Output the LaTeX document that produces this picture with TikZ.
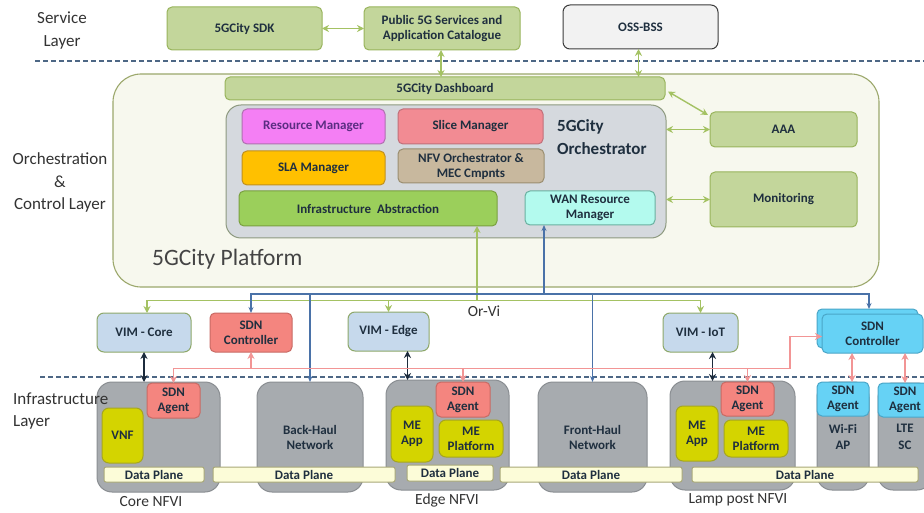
\documentclass[tikz,border=0pt]{standalone}
\usepackage{fontspec}
\setmainfont{Carlito}
\usetikzlibrary{arrows.meta,calc}
\definecolor{gfill}{HTML}{C3D69B}
\definecolor{gdraw}{HTML}{98B45C}
\definecolor{ofill}{HTML}{F2F2F2}
\definecolor{odraw}{HTML}{3C3C3C}
\definecolor{pfill}{HTML}{F7F8EE}
\definecolor{pdraw}{HTML}{9CA86C}
\definecolor{orfill}{HTML}{D5D9DE}
\definecolor{ordraw}{HTML}{8E9A80}
\definecolor{rmfill}{HTML}{F47FF4}
\definecolor{rmdraw}{HTML}{B070B0}
\definecolor{rmtxt}{HTML}{5A2D82}
\definecolor{slfill}{HTML}{F28B93}
\definecolor{sldraw}{HTML}{C0707A}
\definecolor{safill}{HTML}{FFC000}
\definecolor{sadraw}{HTML}{C09020}
\definecolor{nffill}{HTML}{C8B89E}
\definecolor{nfdraw}{HTML}{9A8E70}
\definecolor{iafill}{HTML}{9BCF5B}
\definecolor{iadraw}{HTML}{7AA040}
\definecolor{wafill}{HTML}{B3FAEE}
\definecolor{wadraw}{HTML}{6AB0A0}
\definecolor{vifill}{HTML}{C6D9EC}
\definecolor{vidraw}{HTML}{8EA86A}
\definecolor{sdfill}{HTML}{F4857F}
\definecolor{sddraw}{HTML}{C86A64}
\definecolor{cyfill}{HTML}{66D2F5}
\definecolor{cydraw}{HTML}{4AA6C8}
\definecolor{nvfill}{HTML}{A7ABAF}
\definecolor{nvdraw}{HTML}{8A8E92}
\definecolor{yfill}{HTML}{D4D400}
\definecolor{ydraw}{HTML}{A6A620}
\definecolor{dpfill}{HTML}{FCFCD8}
\definecolor{dpdraw}{HTML}{A8A878}
\definecolor{txt}{HTML}{1F2F3F}
\definecolor{laytxt}{HTML}{333333}
\definecolor{plattxt}{HTML}{444444}
\definecolor{garrow}{HTML}{A4C263}
\definecolor{barrow}{HTML}{4A72A8}
\definecolor{parrow}{HTML}{F29595}
\definecolor{darrow}{HTML}{1C2B3C}
\definecolor{dashc}{HTML}{4D6785}
\newcommand\mybox[7]{%
  \node[#6, minimum width={(#4-#2)*1pt}, minimum height={(#5-#3)*1pt}] (#1) at ({(#2+#4)/2},{(#3+#5)/2}) {#7};}
\tikzset{
  base/.style={draw, rounded corners=5pt, inner sep=1pt, outer sep=0pt, align=center,
    font=\bfseries\fontsize{13}{15}\selectfont, text=txt, line width=1pt},
  gbox/.style={base, fill=gfill, draw=gdraw},
  obox/.style={base, fill=ofill, draw=odraw, rounded corners=7pt},
  platbox/.style={base, fill=pfill, draw=pdraw, rounded corners=28pt, line width=1.1pt},
  orchbox/.style={base, fill=orfill, draw=ordraw, rounded corners=15pt},
  rmbox/.style={base, fill=rmfill, draw=rmdraw, text=rmtxt},
  slbox/.style={base, fill=slfill, draw=sldraw},
  slabox/.style={base, fill=safill, draw=sadraw},
  nfvbox/.style={base, fill=nffill, draw=nfdraw},
  iabox/.style={base, fill=iafill, draw=iadraw},
  wanbox/.style={base, fill=wafill, draw=wadraw},
  vimbox/.style={base, fill=vifill, draw=vidraw, rounded corners=7pt},
  sdnbox/.style={base, fill=sdfill, draw=sddraw},
  cybox/.style={base, fill=cyfill, draw=cydraw},
  nfvibox/.style={base, fill=nvfill, draw=nvdraw, rounded corners=15pt},
  ybox/.style={base, fill=yfill, draw=ydraw, rounded corners=7pt},
  dpbox/.style={base, fill=dpfill, draw=dpdraw, rounded corners=2pt, inner sep=0pt},
  layer/.style={align=center, text=laytxt, font=\fontsize{17}{22.5}\selectfont, inner sep=0pt},
  lbl/.style={text=laytxt, font=\fontsize{15.5}{18}\selectfont, inner sep=0pt},
  gdbl/.style={draw=garrow, line width=1.4pt, {Stealth[length=7pt,width=7pt]}-{Stealth[length=7pt,width=7pt]}},
  garr/.style={draw=garrow, line width=1.4pt, -{Stealth[length=7pt,width=7pt]}},
  barr/.style={draw=barrow, line width=1.5pt, -{Stealth[length=6pt,width=5pt]}},
  parr/.style={draw=parrow, line width=1.4pt, -{Stealth[length=7pt,width=7pt]}},
  pdbl/.style={draw=parrow, line width=1.4pt, {Stealth[length=7pt,width=7pt]}-{Stealth[length=7pt,width=7pt]}},
  ddbl/.style={draw=darrow, line width=1.4pt, {Stealth[length=7pt,width=7pt]}-{Stealth[length=7pt,width=7pt]}},
  dline/.style={draw=dashc, line width=1.3pt, dash pattern=on 5pt off 3pt},
}
\begin{document}
\begin{tikzpicture}[x=1pt,y=-1pt]
\clip (0,0) rectangle (924,513);
\fill[white] (0,0) rectangle (924,513);
% layer dashed lines
\draw[dline] (35,61) -- (924,61);
% service layer
\node[layer] (sl) at (62,30.5) {Service\\Layer};
\mybox{sdk}{167}{7}{322}{50}{gbox}{5GCity SDK}
\mybox{pub}{364}{7}{520}{50}{gbox}{Public 5G Services and\\Application Catalogue}
\mybox{oss}{563}{5}{718}{49}{obox}{OSS-BSS}
% platform
\mybox{plat}{113}{74}{879}{287}{platbox}{}
\node[anchor=west, text=plattxt, font=\fontsize{23.5}{26}\selectfont, inner sep=0pt] (platlbl) at (152,259) {5GCity Platform};
\node[layer] (ocl) at (60,182.5) {Orchestration\\\&\\Control Layer};
\mybox{dash}{225}{77}{665}{100}{gbox}{5GCity Dashboard}
\mybox{orch}{226}{105}{666}{238}{orchbox}{}
\mybox{rm}{242}{109}{385}{144}{rmbox}{Resource Manager}
\mybox{slm}{398}{109}{543}{144}{slbox}{Slice Manager}
\mybox{sla}{242}{151}{385}{185}{slabox}{SLA Manager}
\mybox{nfv}{398}{149}{544}{183}{nfvbox}{NFV Orchestrator \&\\MEC Cmpnts}
\mybox{ia}{239}{191}{497}{226}{iabox}{Infrastructure\ \ Abstraction}
\mybox{wan}{525}{191}{655}{225}{wanbox}{WAN Resource\\Manager}
\node[anchor=west, align=left, text=txt, font=\bfseries\fontsize{17}{23}\selectfont, inner sep=0pt] (orchlbl) at (557,137) {5GCity\\Orchestrator};
\mybox{aaa}{710}{112}{857}{147}{gbox}{AAA}
\mybox{mon}{710}{172}{857}{227}{gbox}{Monitoring}
% service arrows
\draw[gdbl] (sdk.east) -- (pub.west);
\draw[gdbl] ([xshift=-1]pub.south) -- ([xshift=-1]pub.south |- dash.north);
\draw[gdbl] ([xshift=-2]oss.south) -- ([xshift=-2]oss.south |- dash.north);
\draw[gdbl] ([shift={(3,3)}]dash.east) -- ([shift={(-2,3)}]aaa.north west);
\draw[gdbl] (orch.east |- aaa.west) -- (aaa.west);
\draw[gdbl] (orch.east |- mon.west) -- (mon.west);
% VIM row
\mybox{vimc}{97}{313}{191}{352}{vimbox}{VIM - Core}
\mybox{sdnl}{210}{313}{292}{352}{sdnbox}{SDN\\Controller}
\mybox{vime}{348}{312}{429}{351}{vimbox}{VIM - Edge}
\mybox{vimi}{663}{313}{738}{352}{vimbox}{VIM - IoT}
\mybox{sdnrb}{817}{309}{918}{348}{cybox}{}
\mybox{sdnr}{822}{314}{923}{353}{cybox}{SDN\\Controller}
\node[lbl] (orvi) at (484,311) {Or-Vi};
% Or-Vi green bus
\coordinate (ovc) at (477,300.5);
\draw[garr] (ovc) -- (ovc |- ia.south);
\draw[garr] (ovc) -| ([xshift=3]vimc.north);
\draw[garr] (ovc) -| (vimi.north);
\draw[garr] (ovc -| vime.north) -- (vime.north);
% WAN blue bus
\coordinate (wbc) at (544,294);
\draw[barr] (wbc) -- (wbc |- wan.south);
\draw[barr] (wbc) -| (sdnl.north);
\draw[barr] (wbc) -| ([xshift=1.5]sdnrb.north);
% infrastructure
\draw[dline] (40,377) -- (924,377);
\mybox{core}{97}{382}{220}{492}{nfvibox}{}
\mybox{bh}{257}{382}{363}{492}{nfvibox}{Back-Haul\\Network}
\mybox{edge}{386}{380}{509}{490}{nfvibox}{}
\mybox{fh}{538}{382}{647}{492}{nfvibox}{Front-Haul\\Network}
\mybox{lamp}{670}{381}{795}{490}{nfvibox}{}
\mybox{wifi}{817}{382}{869}{490}{nfvibox}{}
\mybox{lte}{878}{383}{932}{490}{nfvibox}{}
\draw[barr] (wbc -| bh.north) -- (bh.north);
\draw[barr] (wbc -| fh.north) -- (fh.north);
\mybox{corea}{147}{383}{200}{418}{sdnbox}{SDN\\Agent}
\mybox{vnf}{102}{408}{143}{463}{ybox}{VNF}
\mybox{edgea}{436}{382}{490}{417}{sdnbox}{SDN\\Agent}
\mybox{edgeapp}{391}{406}{433}{462}{ybox}{ME\\App}
\mybox{edgeplat}{439}{420}{503}{457}{ybox}{ME\\Platform}
\mybox{lampa}{721}{382}{774}{416}{sdnbox}{SDN\\Agent}
\mybox{lampapp}{676}{406}{718}{461}{ybox}{ME\\App}
\mybox{lampplat}{724}{420}{788}{457}{ybox}{ME\\Platform}
\mybox{wifia}{817}{382}{869}{416}{cybox}{SDN\\Agent}
\mybox{ltea}{878}{383}{932}{417}{cybox}{SDN\\Agent}
\node[text=txt, align=center, font=\bfseries\fontsize{13}{16.5}\selectfont] (wifit) at (843,437) {Wi-Fi\\AP};
\node[text=txt, align=center, font=\bfseries\fontsize{13}{16.5}\selectfont] (ltet) at (905,437) {LTE\\SC};
\mybox{cdp}{104}{467}{204}{482}{dpbox}{Data Plane}
\mybox{dp1}{213}{467}{395}{482}{dpbox}{Data Plane}
\mybox{edp}{407}{465}{493}{481}{dpbox}{Data Plane}
\mybox{dp2}{500}{467}{682}{482}{dpbox}{Data Plane}
\mybox{dp3}{692}{467}{918}{482}{dpbox}{Data Plane}
\node[lbl] (corel) at (151,502) {Core NFVI};
\node[lbl] (edgel) at (447,500) {Edge NFVI};
\node[lbl] (lampl) at (738,500) {Lamp post NFVI};
\node[layer, anchor=west, align=left] (il) at (13,411) {Infrastructure\\Layer};
% VIM to NFVI
\draw[ddbl] (vimc.south) -- (vimc.south |- core.north);
\draw[ddbl] ([xshift=19]vime.south) -- ([xshift=19]vime.south |- edge.north);
\draw[ddbl] ([xshift=12]vimi.south) -- ([xshift=12]vimi.south |- lamp.north);
% SDN pink
\coordinate (pk) at (251,368.5);
\coordinate (pkt) at (790,368.5);
\draw[parr] (pk) -- (sdnl.south);
\draw[parr] (pk) -| (corea.north);
\draw[parr] (pk -| edgea.north) -- (edgea.north);
\draw[parr] (pk -| lampa.north) -- (lampa.north);
\draw[parr] (pk) -- (pkt) |- ([yshift=-3]sdnr.west);
\draw[pdbl] ([xshift=9]wifia.north) -- ([xshift=9]wifia.north |- sdnr.south);
\draw[pdbl] (ltea.north) -- (ltea.north |- sdnr.south);
\end{tikzpicture}
\end{document}
